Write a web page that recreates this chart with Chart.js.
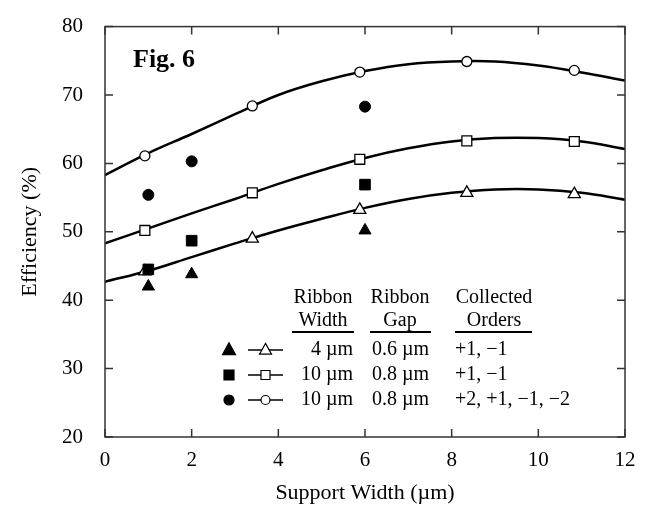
<!DOCTYPE html>
<html>
<head>
<meta charset="utf-8">
<script src="https://cdn.jsdelivr.net/npm/chart.js@4.4.1/dist/chart.umd.min.js"></script>
<style>
  html, body { margin: 0; padding: 0; background: #fff; }
  canvas { display: block; }
</style>
</head>
<body>
<canvas id="effChart" width="647" height="508"></canvas>
<script>
// fitted curves at each micron of support width
const curveX = [0, 1, 2, 3, 4, 5, 6, 7, 8, 9, 10, 11, 12];
const curve4um = [42.7, 44.3, 46.3, 48.3, 50.2, 51.9, 53.5, 54.8, 55.7, 56.2, 56.2, 55.7, 54.7];
const curve10um = [48.3, 50.5, 52.7, 54.8, 57.0, 59.0, 60.8, 62.2, 63.2, 63.7, 63.7, 63.2, 62.1];
const curve10umAll = [58.3, 61.5, 64.3, 67.2, 70.0, 72.0, 73.5, 74.5, 74.9, 74.9, 74.3, 73.3, 72.1];

// open markers (model points on the curves)
const openX = [0.92, 3.4, 5.88, 8.35, 10.83];
const open4um = [44.2, 49.0, 53.2, 55.7, 55.5];
const open10um = [50.2, 55.7, 60.6, 63.3, 63.2];
const open10umAll = [61.1, 68.4, 73.35, 74.9, 73.6];

// filled markers (measured)
const measX = [1, 2, 6];
const meas4um = [42.0, 43.8, 50.2];
const meas10um = [44.5, 48.7, 56.9];
const meas10umAll = [55.4, 60.3, 68.3];

// legend table
const legendHead = [["Ribbon", "Width"], ["Ribbon", "Gap"], ["Collected", "Orders"]];
const legendRows = [
  ["triangle", "4 \u00b5m", "0.6 \u00b5m", "+1, \u22121"],
  ["rect", "10 \u00b5m", "0.8 \u00b5m", "+1, \u22121"],
  ["circle", "10 \u00b5m", "0.8 \u00b5m", "+2, +1, \u22121, \u22122"]
];

const FONT = "'Liberation Serif', 'Times New Roman', serif";

function pts(xs, ys) {
  return xs.map((x, i) => ({ x: x, y: ys[i] }));
}

function curve(ys) {
  return {
    type: 'line', data: pts(curveX, ys), order: 2,
    borderColor: '#000', borderWidth: 2.5, pointRadius: 0,
    tension: 0.4, fill: false
  };
}

function openSet(ys, style, r) {
  return {
    type: 'scatter', data: pts(openX, ys), order: 1,
    pointStyle: style, pointRadius: r, backgroundColor: '#fff',
    borderColor: '#000', borderWidth: 1.3
  };
}

function filledSet(ys, style, r) {
  return {
    type: 'scatter', data: pts(measX, ys), order: 0,
    pointStyle: style, pointRadius: r, backgroundColor: '#000',
    borderColor: '#000', borderWidth: 1
  };
}

function marker(ctx, style, x, y, r, filled) {
  ctx.beginPath();
  if (style === 'circle') {
    ctx.arc(x, y, r, 0, Math.PI * 2);
  } else if (style === 'rect') {
    ctx.rect(x - r, y - r, 2 * r, 2 * r);
  } else {
    ctx.moveTo(x, y - r * 1.1);
    ctx.lineTo(x + r, y + r * 0.7);
    ctx.lineTo(x - r, y + r * 0.7);
    ctx.closePath();
  }
  ctx.fillStyle = filled ? '#000' : '#fff';
  ctx.fill();
  ctx.lineWidth = 1.2;
  ctx.strokeStyle = '#000';
  ctx.stroke();
}

const framePlugin = {
  id: 'frame',
  afterDraw(chart) {
    const ctx = chart.ctx;
    const a = chart.chartArea;
    const xs = chart.scales.x, ys = chart.scales.y;
    ctx.save();
    ctx.strokeStyle = '#333';
    ctx.lineWidth = 1.5;
    ctx.strokeRect(a.left, a.top, a.right - a.left, a.bottom - a.top);
    // inward ticks on all four sides
    const tl = 8;
    ctx.beginPath();
    xs.ticks.forEach(t => {
      const px = xs.getPixelForValue(t.value);
      ctx.moveTo(px, a.bottom); ctx.lineTo(px, a.bottom - tl);
      ctx.moveTo(px, a.top); ctx.lineTo(px, a.top + tl);
    });
    ys.ticks.forEach(t => {
      const py = ys.getPixelForValue(t.value);
      ctx.moveTo(a.left, py); ctx.lineTo(a.left + tl, py);
      ctx.moveTo(a.right, py); ctx.lineTo(a.right - tl, py);
    });
    ctx.stroke();

    // figure label
    ctx.fillStyle = '#000';
    ctx.font = 'bold 26px ' + FONT;
    ctx.textAlign = 'left';
    ctx.textBaseline = 'middle';
    ctx.fillText('Fig. 6', 133, 60);

    // legend table
    ctx.font = '20px ' + FONT;
    const colC = [323, 400, 494];
    const ulines = [[292, 354], [370, 431], [455, 532]];
    legendHead.forEach((h, i) => {
      ctx.textAlign = 'center';
      ctx.fillText(h[0], colC[i], 298);
      ctx.fillText(h[1], colC[i], 321);
      ctx.beginPath();
      ctx.lineWidth = 2;
      ctx.strokeStyle = '#000';
      ctx.moveTo(ulines[i][0], 332);
      ctx.lineTo(ulines[i][1], 332);
      ctx.stroke();
    });
    legendRows.forEach((row, i) => {
      const y = 350 + i * 25;
      const rFill = row[0] === 'triangle' ? 6.5 : 5;
      marker(ctx, row[0], 229, y, rFill, true);
      ctx.beginPath();
      ctx.lineWidth = 1.5;
      ctx.moveTo(248, y); ctx.lineTo(283, y);
      ctx.stroke();
      marker(ctx, row[0], 265.5, y, row[0] === 'triangle' ? 6 : 4.5, false);
      ctx.fillStyle = '#000';
      ctx.textAlign = 'right';
      ctx.fillText(row[1], 353, y);
      ctx.textAlign = 'left';
      ctx.fillText(row[2], 372, y);
      ctx.fillText(row[3], 455, y);
    });
    ctx.restore();
  }
};

new Chart(document.getElementById('effChart'), {
  data: {
    datasets: [
      filledSet(meas4um, 'triangle', 7),
      filledSet(meas10um, 'rect', 7.5),
      filledSet(meas10umAll, 'circle', 5.5),
      openSet(open4um, 'triangle', 7),
      openSet(open10um, 'rect', 7),
      openSet(open10umAll, 'circle', 5),
      curve(curve4um),
      curve(curve10um),
      curve(curve10umAll)
    ]
  },
  options: {
    responsive: false,
    animation: false,
    layout: { padding: { top: 22, right: 22, left: 0, bottom: 0 } },
    plugins: { legend: { display: false }, tooltip: { enabled: false } },
    scales: {
      x: {
        type: 'linear', min: 0, max: 12,
        ticks: { stepSize: 2, padding: 3, color: '#000', maxRotation: 0, font: { family: FONT, size: 21 } },
        grid: { display: false },
        border: { display: false },
        title: { display: true, text: 'Support Width (\u00b5m)', color: '#000', font: { family: FONT, size: 22 }, padding: { top: 0, bottom: 2 } },
        afterFit(s) { s.height = 71; }
      },
      y: {
        type: 'linear', min: 20, max: 80,
        ticks: { stepSize: 10, padding: 14, color: '#000', font: { family: FONT, size: 21 } },
        grid: { display: false },
        border: { display: false },
        title: { display: true, text: 'Efficiency (%)', color: '#000', font: { family: FONT, size: 22 }, padding: { top: 17, bottom: 0 } },
        afterFit(s) { s.width = 105; }
      }
    }
  },
  plugins: [framePlugin]
});
</script>
</body>
</html>
